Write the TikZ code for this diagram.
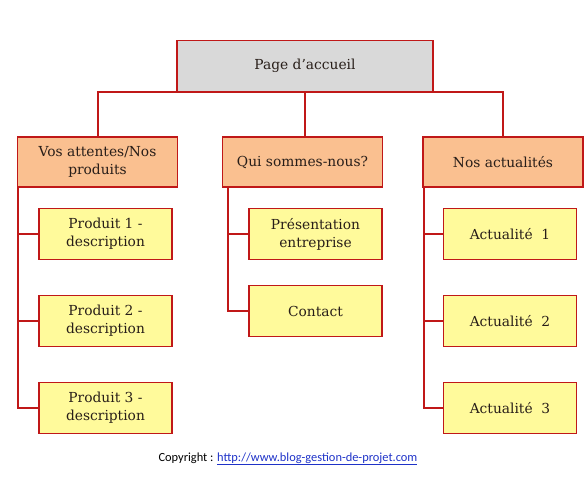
\documentclass[tikz,border=0pt]{standalone}
\usepackage{fontspec}
\usetikzlibrary{backgrounds}
\setmainfont{DejaVu Serif}
\newfontfamily\copyfont{Carlito}
\definecolor{linered}{RGB}{192,24,24}
\definecolor{topfill}{RGB}{217,217,217}
\definecolor{catfill}{RGB}{250,192,144}
\definecolor{leaffill}{RGB}{255,250,155}
\definecolor{txt}{RGB}{40,30,25}
\definecolor{linkblue}{RGB}{30,50,200}
\tikzset{
  box/.style={draw=linered, line width=1.8pt, text=txt, align=center, inner sep=0pt,
    font=\fontsize{13.8}{18}\selectfont},
  topbox/.style={box, fill=topfill, minimum width=256pt, minimum height=51pt},
  catbox/.style={box, fill=catfill, minimum width=160pt, minimum height=50pt},
  leafbox/.style={box, fill=leaffill, minimum width=133pt, minimum height=51pt},
  conn/.style={draw=linered, line width=2pt}
}
\begin{document}
\begin{tikzpicture}[x=1pt,y=-1pt]
\useasboundingbox (0,0) rectangle (588,476);
\node[topbox] (top) at (305,66) {Page d’accueil};
\node[catbox] (c1) at (97.5,162) {Vos attentes/Nos\\produits};
\node[catbox] (c2) at (302.5,162) {Qui sommes-nous?};
\node[catbox] (c3) at (503,162) {Nos actualités};
\node[leafbox] (l1) at (105.5,234) {Produit 1 -\\description};
\node[leafbox] (l2) at (105.5,321) {Produit 2 -\\description};
\node[leafbox] (l3) at (105.5,408) {Produit 3 -\\description};
\node[leafbox] (m1) at (315.5,234) {Présentation\\entreprise};
\node[leafbox] (m2) at (315.5,311) {Contact};
\node[leafbox] (r1) at (510,234) {Actualité\ \ 1};
\node[leafbox] (r2) at (510,321) {Actualité\ \ 2};
\node[leafbox] (r3) at (510,408) {Actualité\ \ 3};
\begin{scope}[on background layer]
\draw[conn] (c1.north) |- (top.south) -| (c3.north);
\draw[conn] (top.south) -- (top.south |- c2.north);
\draw[conn] ([xshift=1.5pt]c1.south west) |- (l1.west);
\draw[conn] ([xshift=1.5pt]c1.south west) |- (l2.west);
\draw[conn] ([xshift=1.5pt]c1.south west) |- (l3.west);
\draw[conn] ([xshift=6pt]c2.south west) |- (m1.west);
\draw[conn] ([xshift=6pt]c2.south west) |- (m2.west);
\draw[conn] ([xshift=1.5pt]c3.south west) |- (r1.west);
\draw[conn] ([xshift=1.5pt]c3.south west) |- (r2.west);
\draw[conn] ([xshift=1.5pt]c3.south west) |- (r3.west);
\end{scope}
\node[font=\copyfont\fontsize{12.4}{14}\selectfont, anchor=base] (copy) at (288,461)
  {Copyright : \textcolor{linkblue}{\underline{http://www.blog-gestion-de-projet.com}}};
\end{tikzpicture}
\end{document}
